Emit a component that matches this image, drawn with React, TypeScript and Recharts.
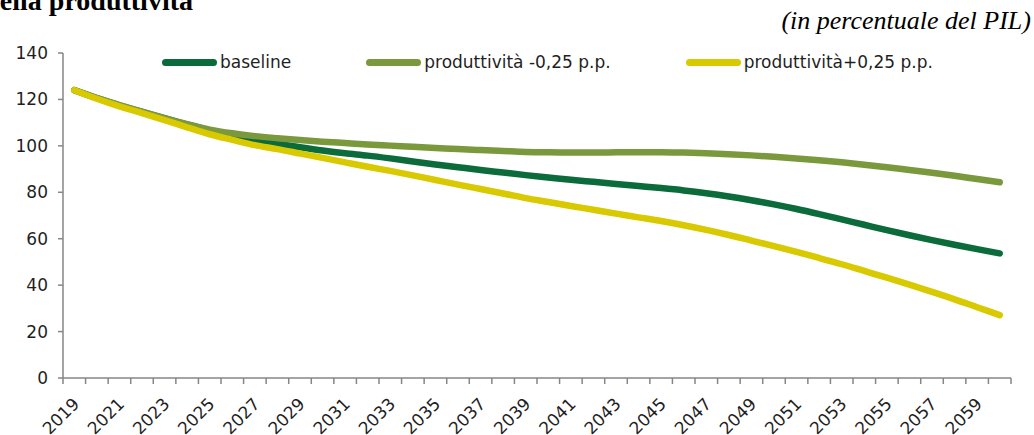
import { LineChart, Line, XAxis, YAxis, Legend } from 'recharts';

// Debito pubblico: scenari di produttività (in % del PIL)
const YEARS = [
  2019, 2020, 2021, 2022, 2023, 2024, 2025, 2026, 2027, 2028,
  2029, 2030, 2031, 2032, 2033, 2034, 2035, 2036, 2037, 2038,
  2039, 2040, 2041, 2042, 2043, 2044, 2045, 2046, 2047, 2048,
  2049, 2050, 2051, 2052, 2053, 2054, 2055, 2056, 2057, 2058,
  2059, 2060,
];

const BASELINE = [
  124, 120.6, 117.5, 114.6, 111.9, 109.2, 106.7, 104.4, 102.5, 100.9,
  99.4, 98, 96.8, 95.8, 94.6, 93.3, 92, 90.8, 89.6, 88.5,
  87.4, 86.4, 85.4, 84.5, 83.6, 82.7, 81.8, 80.8, 79.6, 78.2,
  76.6, 74.8, 72.8, 70.6, 68.3, 66, 63.7, 61.5, 59.4, 57.4,
  55.5, 53.7,
];

const PROD_MINUS = [
  124, 120.6, 117.6, 114.7, 111.9, 109.3, 107, 105.4, 104.2, 103.3,
  102.5, 101.8, 101.2, 100.6, 100.1, 99.6, 99.1, 98.6, 98.2, 97.8,
  97.4, 97.2, 97.1, 97.1, 97.2, 97.3, 97.3, 97.1, 96.8, 96.4,
  95.9, 95.3, 94.6, 93.8, 92.9, 91.9, 90.8, 89.6, 88.4, 87.1,
  85.7, 84.3,
];

const PROD_PLUS = [
  124, 120.3, 117, 114.1, 111.1, 108, 105, 102.6, 100.3, 98.6,
  96.7, 94.8, 92.9, 91, 89.2, 87.3, 85.3, 83.3, 81.4, 79.5,
  77.5, 75.8, 74.1, 72.5, 70.8, 69.2, 67.6, 65.8, 63.8, 61.6,
  59.2, 56.8, 54.3, 51.7, 49, 46.1, 43.2, 40.2, 37.1, 33.9,
  30.5, 27.1,
];

const X_LABELS = [
  '2019', '2021', '2023', '2025', '2027', '2029', '2031', '2033', '2035', '2037',
  '2039', '2041', '2043', '2045', '2047', '2049', '2051', '2053', '2055', '2057',
  '2059',
];

const Y_TICKS = [0, 20, 40, 60, 80, 100, 120, 140];

const SERIES = [
  { key: 'baseline', name: 'baseline', color: '#0b6b3a' },
  { key: 'minus', name: 'produttività -0,25 p.p.', color: '#7a983c' },
  { key: 'plus', name: 'produttività+0,25 p.p.', color: '#d8c900' },
];

const data = YEARS.map((year, i) => ({
  year,
  baseline: BASELINE[i],
  minus: PROD_MINUS[i],
  plus: PROD_PLUS[i],
}));

// category boundaries, so tick marks sit between the years like in Excel
const X_BOUNDS = [...YEARS.map((y) => y - 0.5), YEARS[YEARS.length - 1] + 0.5];

const FONT = '"DejaVu Sans", Verdana, sans-serif';
const AXIS_COLOR = '#868686';
const TEXT_COLOR = '#1f1f1f';

const CHART_W = 1034;
const CHART_H = 435;
const Y_AXIS_W = 63;
const MARGIN = { top: 53, right: 23, left: 0, bottom: 0 };
const BAND = (CHART_W - MARGIN.right - MARGIN.left - Y_AXIS_W) / YEARS.length;

function YearTick(props: any) {
  const { x, y, payload } = props;
  const label = String(payload.value + 0.5);
  if (!X_LABELS.includes(label)) return null;
  const ax = x + BAND / 2 + 6;
  const ay = y + 21;
  return (
    <text
      x={ax}
      y={ay}
      textAnchor="end"
      fill={TEXT_COLOR}
      fontSize={17}
      fontFamily={FONT}
      transform={`rotate(-45, ${ax}, ${ay})`}
    >
      {label}
    </text>
  );
}

function LegendContent(props: any) {
  const items = props.payload || [];
  return (
    <div style={{ display: 'flex', gap: 75, fontFamily: FONT, fontSize: 17, color: TEXT_COLOR }}>
      {items.map((item: any) => (
        <div key={item.value} style={{ display: 'flex', alignItems: 'center', whiteSpace: 'nowrap' }}>
          <span
            style={{
              display: 'inline-block',
              width: 55,
              height: 7,
              borderRadius: 4,
              background: item.color,
              marginRight: 3,
            }}
          />
          <span>{item.value}</span>
        </div>
      ))}
    </div>
  );
}

export default function App() {
  return (
    <div
      style={{
        position: 'absolute',
        left: 0,
        top: 0,
        width: CHART_W,
        height: CHART_H,
        overflow: 'hidden',
        background: '#fff',
      }}
    >
      <div
        style={{
          position: 'absolute',
          right: CHART_W - 193,
          top: -13,
          fontFamily: '"Liberation Serif", "Times New Roman", serif',
          fontWeight: 'bold',
          fontSize: 28,
          lineHeight: '28px',
          whiteSpace: 'nowrap',
          color: '#000',
        }}
      >
        Figura: debito pubblico nello scenario della produttività
      </div>
      <div
        style={{
          position: 'absolute',
          right: 3,
          top: 8,
          fontFamily: '"Liberation Serif", "Times New Roman", serif',
          fontStyle: 'italic',
          fontSize: 26,
          lineHeight: '26px',
          whiteSpace: 'nowrap',
          color: '#000',
        }}
      >
        (in percentuale del PIL)
      </div>
      <LineChart width={CHART_W} height={CHART_H} data={data} margin={MARGIN}>
        <XAxis
          dataKey="year"
          type="number"
          domain={[X_BOUNDS[0], X_BOUNDS[X_BOUNDS.length - 1]]}
          allowDataOverflow
          ticks={X_BOUNDS}
          interval={0}
          tick={<YearTick />}
          tickSize={6}
          tickMargin={0}
          height={57}
          axisLine={{ stroke: AXIS_COLOR, strokeWidth: 1.5 }}
          tickLine={{ stroke: AXIS_COLOR, strokeWidth: 1.5 }}
        />
        <YAxis
          type="number"
          domain={[0, 140]}
          ticks={Y_TICKS}
          interval={0}
          width={Y_AXIS_W}
          tickSize={5}
          tickMargin={10}
          axisLine={{ stroke: AXIS_COLOR, strokeWidth: 1.5 }}
          tickLine={{ stroke: AXIS_COLOR, strokeWidth: 1.5 }}
          tick={{ fill: TEXT_COLOR, fontSize: 17, fontFamily: FONT }}
        />
        <Legend
          layout="horizontal"
          verticalAlign="middle"
          align="center"
          content={<LegendContent />}
          wrapperStyle={{ top: 52, left: 162, width: 'auto' }}
        />
        {SERIES.map((s) => (
          <Line
            key={s.key}
            type="monotone"
            dataKey={s.key}
            name={s.name}
            stroke={s.color}
            strokeWidth={6.5}
            strokeLinecap="round"
            dot={false}
            activeDot={false}
            isAnimationActive={false}
          />
        ))}
      </LineChart>
    </div>
  );
}
